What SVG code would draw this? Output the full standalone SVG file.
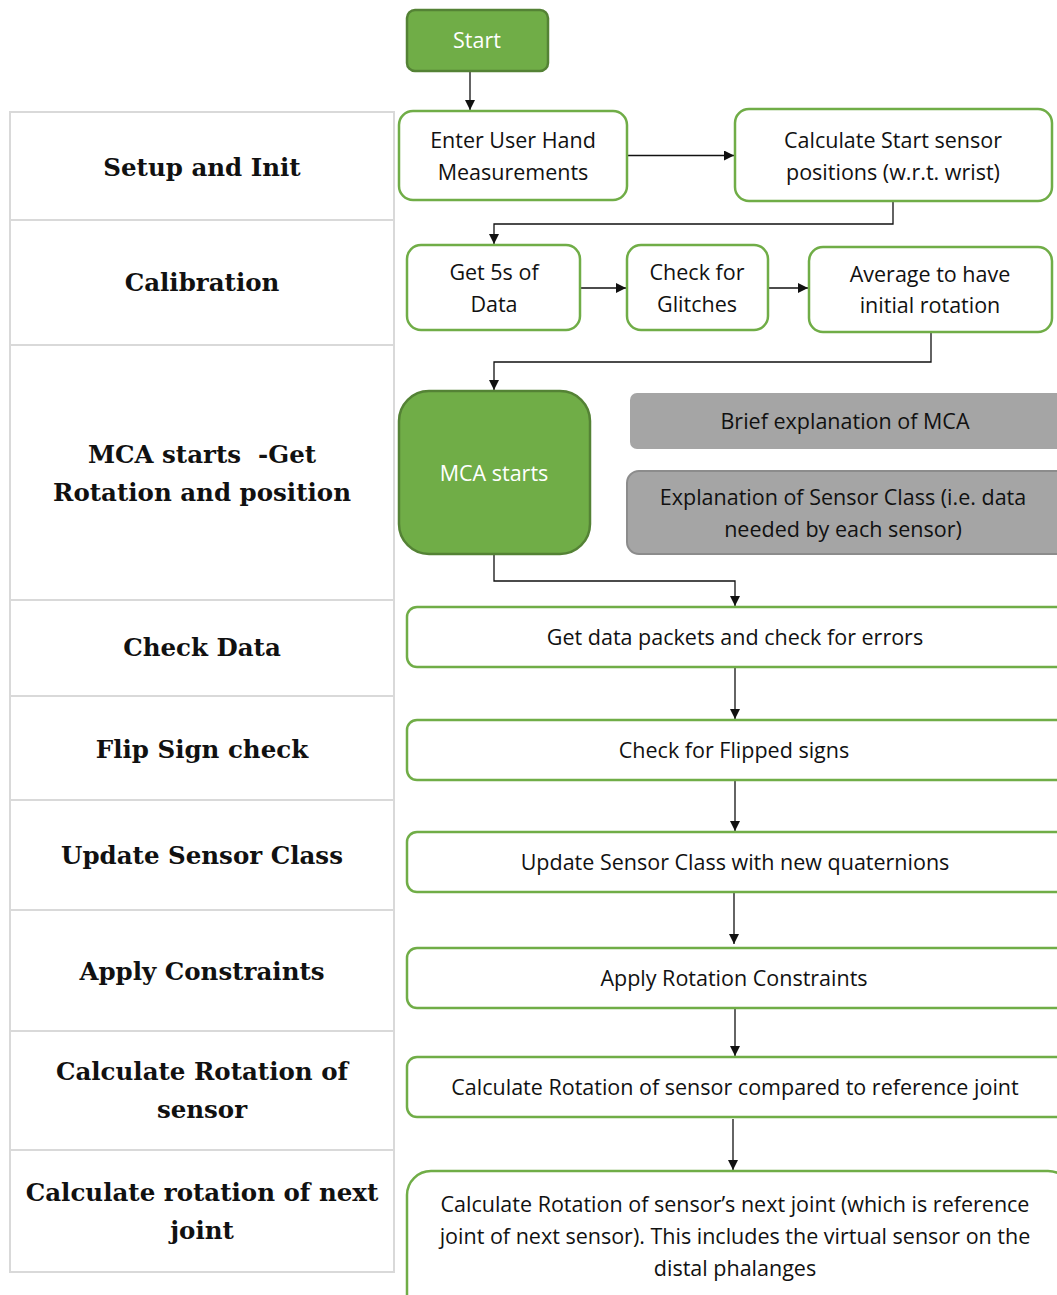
<svg xmlns="http://www.w3.org/2000/svg" width="1057" height="1295" viewBox="0 0 1057 1295">
  <style>
    .cell { fill: #ffffff; stroke: #d9d9d9; stroke-width: 2; }
    .phase { font-family: "DejaVu Serif", "Liberation Serif", serif; font-weight: bold; font-size: 24.5px; fill: #111; text-anchor: middle; }
    .step { fill: #ffffff; stroke: #70ad47; stroke-width: 2.5; }
    .key { fill: #70ad47; stroke: #548235; stroke-width: 2.5; }
    .note { fill: #a5a5a5; stroke: #8c8c8c; stroke-width: 2; }
    .lbl { font-family: "Open Sans", Lato, "Liberation Sans", sans-serif; font-size: 21.5px; fill: #111; text-anchor: middle; }
    .lblw { font-family: "Open Sans", Lato, "Liberation Sans", sans-serif; font-size: 21.5px; fill: #ffffff; text-anchor: middle; }
    .wire { fill: none; stroke: #111; stroke-width: 1.3; marker-end: url(#arrow); }
  </style>
  <defs>
    <marker id="arrow" viewBox="0 0 10 10" refX="10" refY="5" markerWidth="10" markerHeight="10" markerUnits="userSpaceOnUse" orient="auto">
      <path d="M0,0 L10,5 L0,10 z" fill="#111"/>
    </marker>
  </defs>
  <rect width="1057" height="1295" fill="#ffffff"/>

  <!-- phase column -->
  <g id="phases">
    <rect class="cell" x="10" y="112" width="384" height="108"/>
    <rect class="cell" x="10" y="220" width="384" height="125"/>
    <rect class="cell" x="10" y="345" width="384" height="255"/>
    <rect class="cell" x="10" y="600" width="384" height="96"/>
    <rect class="cell" x="10" y="696" width="384" height="104"/>
    <rect class="cell" x="10" y="800" width="384" height="110"/>
    <rect class="cell" x="10" y="910" width="384" height="121"/>
    <rect class="cell" x="10" y="1031" width="384" height="119"/>
    <rect class="cell" x="10" y="1150" width="384" height="122"/>
    <text class="phase" x="202" y="176">Setup and Init</text>
    <text class="phase" x="202" y="291">Calibration</text>
    <text class="phase" x="202" y="463">MCA starts&#160; -Get</text>
    <text class="phase" x="202" y="501">Rotation and position</text>
    <text class="phase" x="202" y="656">Check Data</text>
    <text class="phase" x="202" y="758">Flip Sign check</text>
    <text class="phase" x="202" y="864">Update Sensor Class</text>
    <text class="phase" x="202" y="980">Apply Constraints</text>
    <text class="phase" x="202" y="1080">Calculate Rotation of</text>
    <text class="phase" x="202" y="1118">sensor</text>
    <text class="phase" x="202" y="1201">Calculate rotation of next</text>
    <text class="phase" x="202" y="1239">joint</text>
  </g>

  <!-- connectors -->
  <g id="connectors">
    <path class="wire" d="M470,71 V110"/>
    <path class="wire" d="M627,155.5 H734"/>
    <path class="wire" d="M893,201 V224 H494 V244"/>
    <path class="wire" d="M580,288 H626"/>
    <path class="wire" d="M768,288 H808"/>
    <path class="wire" d="M931,332 V362 H494 V390"/>
    <path class="wire" d="M494,554 V581 H735 V606"/>
    <path class="wire" d="M735,667 V719"/>
    <path class="wire" d="M735,780 V831"/>
    <path class="wire" d="M734,892 V944"/>
    <path class="wire" d="M735,1008 V1056"/>
    <path class="wire" d="M733,1119 V1170"/>
  </g>

  <g id="start">
    <rect class="key" x="407" y="10" width="141" height="61" rx="8"/>
    <text class="lblw" x="477" y="48">Start</text>
  </g>
  <g id="enter-measurements">
    <rect class="step" x="399" y="111" width="228" height="89" rx="14"/>
    <text class="lbl" x="513" y="148">Enter User Hand</text>
    <text class="lbl" x="513" y="180">Measurements</text>
  </g>
  <g id="start-positions">
    <rect class="step" x="735" y="109" width="317" height="92" rx="14"/>
    <text class="lbl" x="893" y="148">Calculate Start sensor</text>
    <text class="lbl" x="893" y="180">positions (w.r.t. wrist)</text>
  </g>
  <g id="get-5s">
    <rect class="step" x="407" y="245" width="173" height="85" rx="14"/>
    <text class="lbl" x="494" y="280">Get 5s of</text>
    <text class="lbl" x="494" y="312">Data</text>
  </g>
  <g id="check-glitches">
    <rect class="step" x="627" y="245" width="141" height="85" rx="14"/>
    <text class="lbl" x="697" y="280">Check for</text>
    <text class="lbl" x="697" y="312">Glitches</text>
  </g>
  <g id="average">
    <rect class="step" x="809" y="247" width="243" height="85" rx="14"/>
    <text class="lbl" x="930" y="282">Average to have</text>
    <text class="lbl" x="930" y="313">initial rotation</text>
  </g>
  <g id="mca-starts">
    <rect class="key" x="399" y="391" width="191" height="163" rx="30"/>
    <text class="lblw" x="494" y="481">MCA starts</text>
  </g>
  <g id="mca-note">
    <rect x="630" y="393" width="440" height="56" rx="7" fill="#a5a5a5"/>
    <text class="lbl" x="845" y="429">Brief explanation of MCA</text>
  </g>
  <g id="sensor-class-note">
    <rect class="note" x="627" y="471" width="445" height="83" rx="12"/>
    <text class="lbl" x="843" y="505">Explanation of Sensor Class (i.e. data</text>
    <text class="lbl" x="843" y="537">needed by each sensor)</text>
  </g>
  <g id="get-packets">
    <rect class="step" x="407" y="607" width="665" height="60" rx="10"/>
    <text class="lbl" x="735" y="645">Get data packets and check for errors</text>
  </g>
  <g id="flipped-signs">
    <rect class="step" x="407" y="720" width="665" height="60" rx="10"/>
    <text class="lbl" x="734" y="758">Check for Flipped signs</text>
  </g>
  <g id="update-class">
    <rect class="step" x="407" y="832" width="665" height="60" rx="10"/>
    <text class="lbl" x="735" y="870">Update Sensor Class with new quaternions</text>
  </g>
  <g id="constraints">
    <rect class="step" x="407" y="948" width="665" height="60" rx="10"/>
    <text class="lbl" x="734" y="986">Apply Rotation Constraints</text>
  </g>
  <g id="sensor-rotation">
    <rect class="step" x="407" y="1057" width="665" height="60" rx="10"/>
    <text class="lbl" x="735" y="1095">Calculate Rotation of sensor compared to reference joint</text>
  </g>
  <g id="next-joint">
    <rect class="step" x="407" y="1171" width="665" height="150" rx="24"/>
    <text class="lbl" x="735" y="1212">Calculate Rotation of sensor’s next joint (which is reference</text>
    <text class="lbl" x="735" y="1244">joint of next sensor). This includes the virtual sensor on the</text>
    <text class="lbl" x="735" y="1276">distal phalanges</text>
  </g>
</svg>
